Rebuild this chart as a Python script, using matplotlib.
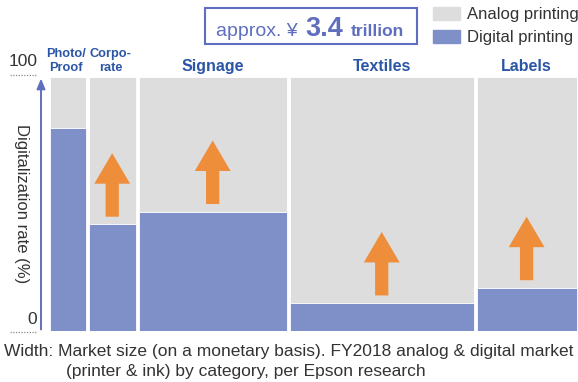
import matplotlib.pyplot as plt
from matplotlib.patches import Rectangle

plt.rcParams['font.family'] = ['Liberation Sans', 'DejaVu Sans']

# Printing market by category: width = market size (trillion yen),
# height = digital share of the category (%)
categories = ["Photo/\nProof", "Corpo-\nrate", "Signage", "Textiles", "Labels"]
market_size = [0.25, 0.32, 0.97, 1.20, 0.66]
digital_rate = [80, 42, 47, 11, 17]
has_arrow = [False, True, True, True, True]
total_label = "3.4"

grey = "#DCDDDC"
blue = "#7F8FC8"
orange = "#EE8E3A"
axis_blue = "#5F6EBE"
label_blue = "#2B55A5"
text_grey = "#333333"

fig = plt.figure(figsize=(5.78, 3.82), dpi=100)
ax = fig.add_axes([0.0836, 0.1335, 0.9164, 0.6649])

gap = 0.019  # white gap between columns
left = 0.0
for cat, w, d, arr in zip(categories, market_size, digital_rate, has_arrow):
    x0 = left + gap / 2
    bw = w - gap
    ax.bar(x0, 100 - d, bottom=d, width=bw, align="edge", color=grey,
           edgecolor="white", linewidth=0.6)
    ax.bar(x0, d, width=bw, align="edge", color=blue,
           edgecolor="white", linewidth=0.6)
    cx = left + w / 2
    if arr:
        ax.arrow(cx, d + 3, 0, 25, width=0.085, head_width=0.23,
                 head_length=12, length_includes_head=True,
                 color=orange, linewidth=0)
    if "\n" in cat:
        # narrow columns get a smaller two-line label
        ax.text(cx - 0.01, 101.2, cat, ha="center", va="bottom", fontsize=9.2,
                fontweight="bold", color=label_blue, linespacing=1.25)
    else:
        ax.text(cx, 101.2, cat, ha="center", va="bottom", fontsize=11.5,
                fontweight="bold", color=label_blue)
    left += w

ax.set_xlim(0, sum(market_size))
ax.set_ylim(0, 100)
ax.axis("off")

# Vertical axis arrow with dotted 0 / 100 markers
yt = ax.get_yaxis_transform()
ax.annotate("", xy=(-0.0138, 100.5), xytext=(-0.0138, -0.5), xycoords=yt,
            textcoords=yt, annotation_clip=False,
            arrowprops=dict(arrowstyle="-|>,head_width=0.25,head_length=0.6",
                            color=axis_blue, lw=1.4))
for yv, lab in [(100, "100"), (0, "0")]:
    ax.plot([-0.072, -0.021], [yv + 0.8, yv + 0.8] if yv else [-0.4, -0.4],
            transform=yt, clip_on=False, color="#888888", lw=0.9,
            linestyle=(0, (1, 1.2)))
    ax.text(-0.021, yv + 3 if yv else 1.6, lab, transform=yt, ha="right",
            va="bottom", fontsize=12.5, color=text_grey)

ax.text(-0.05, 50, "Digitalization rate (%)", transform=yt, rotation=270,
        ha="center", va="center", fontsize=12, color=text_grey)

# Total market box
fig.patches.append(Rectangle((0.3547, 0.8848), 0.3668, 0.0942,
                             transform=fig.transFigure, fill=False,
                             edgecolor=axis_blue, linewidth=1.5))
fig.text(0.374, 0.906, "approx. \u00a5", fontsize=14, color=axis_blue,
         va="baseline")
fig.text(0.529, 0.906, total_label, fontsize=19.5, fontweight="bold",
         color=axis_blue, va="baseline")
fig.text(0.607, 0.906, "trillion", fontsize=12.5, fontweight="bold",
         color=axis_blue, va="baseline")

# Legend
for yb, col, lab, yt_ in [(0.9476, grey, "Analog printing", 0.963),
                          (0.8874, blue, "Digital printing", 0.903)]:
    fig.patches.append(Rectangle((0.749, yb), 0.0467, 0.034,
                                 transform=fig.transFigure, color=col))
    fig.text(0.808, yt_, lab, fontsize=12, color=text_grey, va="center")

# Footnote
fig.text(0.007, 0.079,
         "Width: Market size (on a monetary basis). FY2018 analog & digital market",
         fontsize=12.5, color=text_grey, va="center")
fig.text(0.114, 0.027, "(printer & ink) by category, per Epson research",
         fontsize=12.5, color=text_grey, va="center")

fig.savefig("out.png", dpi=100)
